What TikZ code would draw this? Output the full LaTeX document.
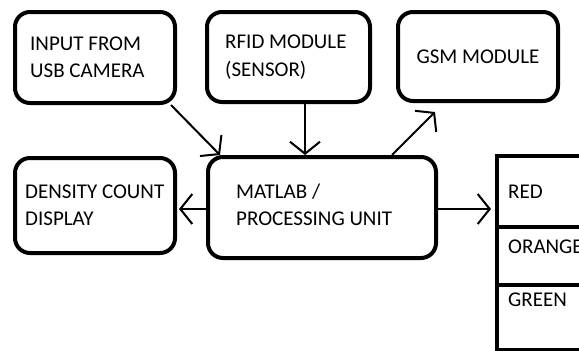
\documentclass[tikz,border=0pt]{standalone}
\usepackage{fontspec}
\setmainfont{Carlito}
\usetikzlibrary{arrows.meta,positioning}
\tikzset{
	box/.style={draw, line width=4pt, rounded corners=15pt, inner sep=0pt},
	lamp/.style={draw, line width=4pt, inner sep=0pt, minimum width=110pt},
	txt/.style={inner sep=0pt, align=left, font=\fontsize{21}{27.5}\selectfont},
	arr/.style={line width=2pt, -{Straight Barb[length=12pt,width=30pt]}}
}

\begin{document}
\begin{tikzpicture}[x=1pt,y=-1pt]
		\useasboundingbox (0,0) rectangle (579,351);
		\clip (0,0) rectangle (579,351);
		% blocks
		\node[box, minimum width=160pt, minimum height=91pt] (cam) at (95,57.5) {};
		\node[box, minimum width=163pt, minimum height=90pt] (rfid) at (288.5,57) {};
		\node[box, minimum width=160pt, minimum height=89pt] (gsm) at (478,56.5) {};
		\node[box, minimum width=160pt, minimum height=95pt] (dens) at (95,205.5) {};
		\node[box, minimum width=228pt, minimum height=101pt] (matlab) at (322,207.5) {};
		% signal
		\node[lamp, minimum height=71pt] (red) at (552,191.5) {};
		\node[lamp, minimum height=58pt] (orange) at (552,256) {};
		\node[lamp, minimum height=65pt] (green) at (552,317.5) {};
		% labels
		\node[txt, right=17pt of cam.west] (camtxt) {INPUT FROM\\USB CAMERA};
		\node[txt, right=20pt of rfid.west] (rfidtxt) {RFID MODULE\\(SENSOR)};
		\node[txt] (gsmtxt) at (gsm) {GSM MODULE};
		\node[txt, right=12pt of dens.west] (denstxt) {DENSITY COUNT\\DISPLAY};
		\node[txt, right=30pt of matlab.west, yshift=2.5pt] (matlabtxt) {MATLAB /\\PROCESSING UNIT};
		\node[txt, right=13pt of red.west] (redtxt) {RED};
		\node[txt, right=13pt of orange.west, yshift=9.5pt] (orangetxt) {ORANGE};
		\node[txt, right=13pt of green.west, yshift=18pt] (greentxt) {GREEN};
		% arrows
		\draw[arr] ([xshift=-6pt]cam.south east) -- ([xshift=14pt]matlab.north west);
		\draw[arr] ([xshift=16.5pt]rfid.south) -- ([xshift=16.5pt]rfid.south |- matlab.north);
		\draw[arr] ([xshift=-46pt]matlab.north east) -- ([xshift=39pt,yshift=-9pt]gsm.south west);
		\draw[arr, shorten >=2pt] ([yshift=-1.5pt]matlab.west) -- ([yshift=-1.5pt]matlab.west -| dens.east);
		\draw[arr, shorten >=4pt] ([yshift=-1.5pt]matlab.east) -- ([yshift=-1.5pt]matlab.east -| red.west);
	\end{tikzpicture}
\end{document}
